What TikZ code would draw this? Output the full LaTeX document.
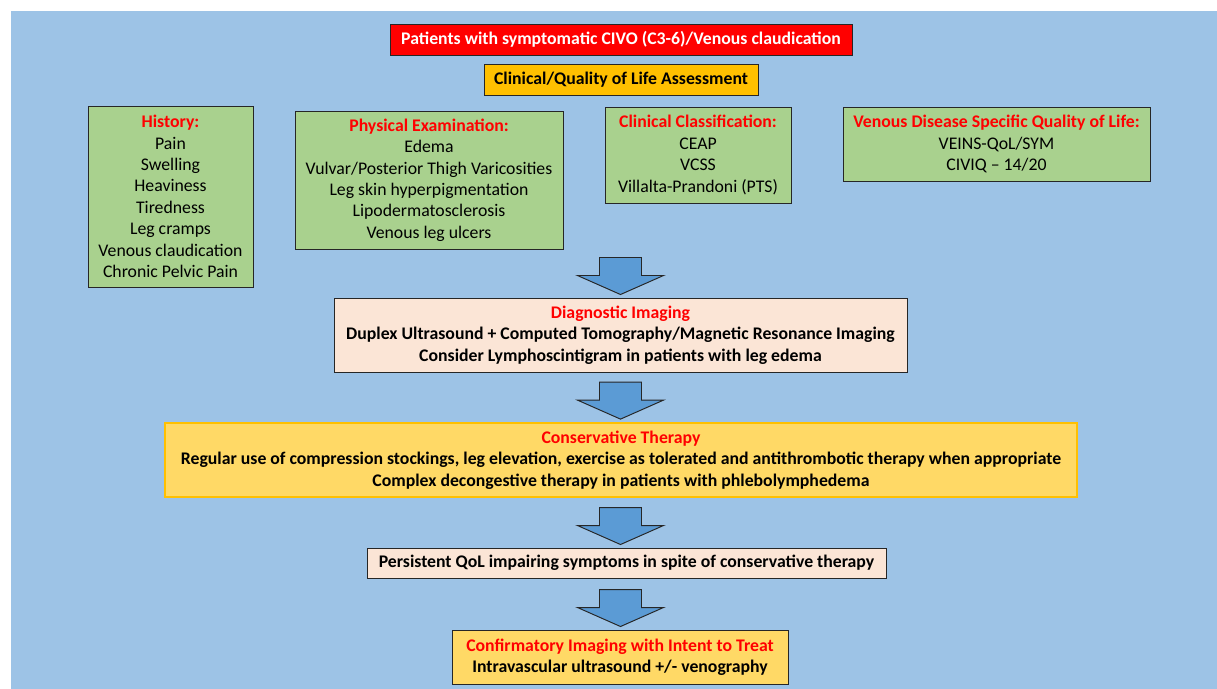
\documentclass[tikz,border=0pt]{standalone}
\usepackage{fontspec}
\setmainfont{Carlito}
\usetikzlibrary{calc}
\definecolor{bgblue}{HTML}{9DC3E6}
\definecolor{boxgreen}{HTML}{A9D18E}
\definecolor{boxpeach}{HTML}{FBE5D6}
\definecolor{boxyellow}{HTML}{FFD966}
\definecolor{boxorange}{HTML}{FFC000}
\definecolor{boxrim}{HTML}{FFC000}
\definecolor{arrowblue}{HTML}{5B9BD5}
\definecolor{titlered}{HTML}{FF0000}
\newcommand{\boxtitle}[1]{\textcolor{titlered}{\textbf{#1}}}
% block arrow pointing down onto a box
\newcommand{\flowarrow}[1]{%
  \draw[flowarrow] ($(diag.north |- #1.north)+(0,-3)$)
  -- ++(-43,-19) -- ++(22,0) -- ++(0,-18) -- ++(42,0) -- ++(0,18) -- ++(22,0) -- cycle;}

\begin{document}
\begin{tikzpicture}[x=0.02cm,y=-0.02cm,
    box/.style={draw=black!85,line width=0.55pt,align=center,inner sep=0pt,
      font=\fontsize{10.1}{12.15}\selectfont},
    size/.style 2 args={minimum width=#1*0.02cm,minimum height=#2*0.02cm},
    flowarrow/.style={draw=black!85,line width=0.55pt,fill=arrowblue,line join=miter}]
  \useasboundingbox (0,0) rectangle (1217,689);
  \fill[bgblue] (11,11) rectangle (1217,689);
  % Top
  \node[box,size={462}{31},fill=red,text=white,font=\bfseries\fontsize{10.1}{12.15}\selectfont]
    (patients) at (621,39.5) {Patients with symptomatic CIVO (C3-6)/Venous claudication};
  \node[box,size={274}{31},fill=boxorange,font=\bfseries\fontsize{10.1}{12.15}\selectfont]
    (assess) at (621,79.5) {Clinical/Quality of Life Assessment};
  % Assessment
  \node[box,size={165}{181},fill=boxgreen] (history) at (170.5,196.5)
    {\boxtitle{History:}\\Pain\\Swelling\\Heaviness\\Tiredness\\Leg cramps\\Venous claudication\\Chronic Pelvic Pain};
  \node[box,size={268}{138},fill=boxgreen] (exam) at (429,180)
    {\boxtitle{Physical Examination:}\\Edema\\Vulvar/Posterior Thigh Varicosities\\Leg skin hyperpigmentation\\Lipodermatosclerosis\\Venous leg ulcers};
  \node[box,size={186}{96},fill=boxgreen] (classif) at (698,155)
    {\boxtitle{Clinical Classification:}\\CEAP\\VCSS\\Villalta-Prandoni (PTS)};
  \node[box,size={307}{74},fill=boxgreen] (qol) at (996.5,144)
    {\boxtitle{Venous Disease Specific Quality of Life:}\\VEINS-QoL/SYM\\CIVIQ -- 14/20};
  % Work-up
  \node[box,size={573}{74},fill=boxpeach] (diag) at (620.5,335)
    {\boxtitle{Diagnostic Imaging}\\\textbf{Duplex Ultrasound + Computed Tomography/Magnetic Resonance Imaging}\\\textbf{Consider Lymphoscintigram in patients with leg edema}};
  \node[box,size={912}{74},fill=boxyellow,draw=boxrim,line width=1pt] (conserv) at (621,460)
    {\boxtitle{Conservative Therapy}\\\textbf{Regular use of compression stockings, leg elevation, exercise as tolerated and antithrombotic therapy when appropriate}\\\textbf{Complex decongestive therapy in patients with phlebolymphedema}};
  \node[box,size={519}{30},fill=boxpeach] (persist) at (626.5,563)
    {\textbf{Persistent QoL impairing symptoms in spite of conservative therapy}};
  \node[box,size={336}{54},fill=boxyellow] (confirm) at (620,657)
    {\boxtitle{Confirmatory Imaging with Intent to Treat}\\\textbf{Intravascular ultrasound +/- venography}};
  % Arrows
  \flowarrow{diag}
  \flowarrow{conserv}
  \flowarrow{persist}
  \flowarrow{confirm}
\end{tikzpicture}
\end{document}
